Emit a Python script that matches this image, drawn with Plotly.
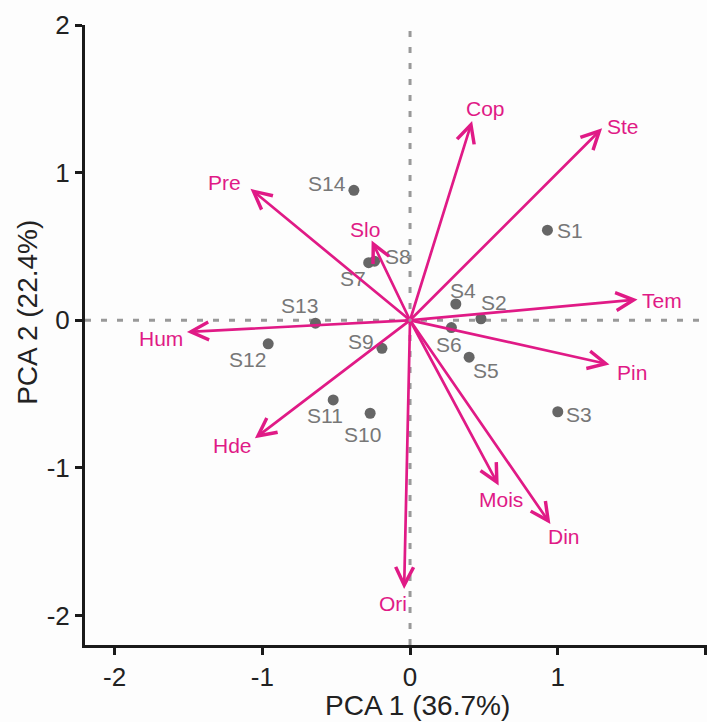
import plotly.graph_objects as go

# Site scores on the first two principal components
sites = ["S1", "S2", "S3", "S4", "S5", "S6", "S7", "S8", "S9", "S10", "S11", "S12", "S13", "S14"]
site_pc1 = [0.93, 0.48, 1.00, 0.31, 0.40, 0.28, -0.28, -0.24, -0.19, -0.27, -0.52, -0.96, -0.64, -0.38]
site_pc2 = [0.61, 0.01, -0.62, 0.11, -0.25, -0.05, 0.39, 0.40, -0.19, -0.63, -0.54, -0.16, -0.02, 0.88]

# Variable loadings (arrow tips)
variables = ["Pre", "Hum", "Slo", "Cop", "Ste", "Tem", "Pin", "Mois", "Din", "Ori", "Hde"]
var_pc1 = [-1.08, -1.51, -0.26, 0.42, 1.30, 1.54, 1.35, 0.60, 0.95, -0.04, -1.05]
var_pc2 = [0.89, -0.08, 0.54, 1.35, 1.30, 0.14, -0.30, -1.12, -1.38, -1.82, -0.80]

x_ticks = [-2, -1, 0, 1, 2]
y_ticks = [-2, -1, 0, 1, 2]
x_title = "PCA 1 (36.7%)"
y_title = "PCA 2 (22.4%)"

# Label placement in pixels (dx right, dy down) relative to each mark
site_label_offset = {
    "S1": (23, 0), "S2": (13, -16), "S3": (21, 3), "S4": (7, -14), "S5": (17, 13),
    "S6": (-2, 17), "S7": (-16, 16), "S8": (23, -5), "S9": (-21, -7), "S10": (-8, 21),
    "S11": (-8, 16), "S12": (-21, 16), "S13": (-16, -18), "S14": (-27, -7),
}
var_label_offset = {
    "Pre": (-26, -6), "Hum": (-26, 6), "Slo": (-7, -11), "Cop": (13, -12), "Ste": (21, -2),
    "Tem": (24, 1), "Pin": (23, 8), "Mois": (2, 14), "Din": (14, 13), "Ori": (-11, 15),
    "Hde": (-22, 7),
}

PINK = "#E01A86"
GREY_PT = "#666666"
GREY_TXT = "#777777"
FONT = "Liberation Sans, Arial, sans-serif"

fig = go.Figure()

fig.add_trace(go.Scatter(
    x=site_pc1, y=site_pc2, mode="markers",
    marker=dict(size=11, color=GREY_PT),
    hoverinfo="text", text=sites, showlegend=False,
))

annotations = []
for name, px, py in zip(sites, site_pc1, site_pc2):
    dx, dy = site_label_offset[name]
    annotations.append(dict(
        x=px, y=py, xref="x", yref="y", text=name, showarrow=False,
        xshift=dx, yshift=-dy, font=dict(family=FONT, size=21, color=GREY_TXT),
    ))

for name, vx, vy in zip(variables, var_pc1, var_pc2):
    annotations.append(dict(
        x=vx, y=vy, xref="x", yref="y", ax=0, ay=0, axref="x", ayref="y",
        text="", showarrow=True, arrowhead=5, arrowsize=1.3, arrowwidth=2.7,
        arrowcolor=PINK, standoff=0,
    ))
    dx, dy = var_label_offset[name]
    annotations.append(dict(
        x=vx, y=vy, xref="x", yref="y", text=name, showarrow=False,
        xshift=dx, yshift=-dy, font=dict(family=FONT, size=21, color=PINK),
    ))

# Axis titles
annotations.append(dict(
    x=0.05, y=0, xref="x", yref="paper", yanchor="middle", yshift=-60,
    text=x_title, showarrow=False, font=dict(family=FONT, size=28, color="#222222"),
))
annotations.append(dict(
    x=0, y=0.05, xref="paper", yref="y", xanchor="center", xshift=-57,
    text=y_title, textangle=-90, showarrow=False,
    font=dict(family=FONT, size=28, color="#222222"),
))

shapes = [
    dict(type="line", xref="x", yref="y", x0=-2.2, x1=2.01, y0=0, y1=0,
         line=dict(color="#999999", width=3, dash="6px,10px"), layer="below"),
    dict(type="line", xref="x", yref="y", x0=0, x1=0, y0=-2.2, y1=2.0,
         line=dict(color="#999999", width=3, dash="6px,10px"), layer="below"),
]

fig.update_layout(
    width=707, height=722,
    margin=dict(l=85, r=0, t=25, b=77),
    paper_bgcolor="#fdfdfd", plot_bgcolor="#fdfdfd",
    font=dict(family=FONT, color="#222222"),
    annotations=annotations, shapes=shapes,
    showlegend=False,
)
axis_common = dict(
    showgrid=False, zeroline=False, showline=True, linecolor="#1a1a1a", linewidth=3,
    ticks="outside", ticklen=7, tickwidth=2.5, tickcolor="#1a1a1a",
    tickfont=dict(family=FONT, size=26, color="#222222"),
)
fig.update_xaxes(range=[-2.2, 2.01], tickvals=x_ticks, ticktext=[str(v) for v in x_ticks], **axis_common)
fig.update_yaxes(range=[-2.2, 2.0], tickvals=y_ticks, ticktext=[str(v) for v in y_ticks], **axis_common)

fig.write_html("out.html")
